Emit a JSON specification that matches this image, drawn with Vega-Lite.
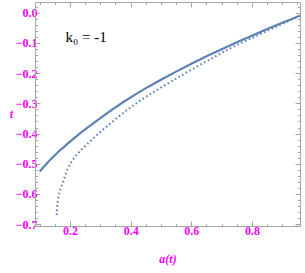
{
  "$schema": "https://vega.github.io/schema/vega-lite/v6.json",
  "width": 265,
  "height": 224,
  "autosize": {"type": "none"},
  "padding": {"left": 35, "top": 2, "right": 5, "bottom": 47},
  "background": "white",
  "view": {"stroke": null},
  "datasets": {
    "solid": [
      {"a": 0.1, "t": -0.526}, {"a": 0.11, "t": -0.514}, {"a": 0.12, "t": -0.503},
      {"a": 0.13, "t": -0.492}, {"a": 0.14, "t": -0.482}, {"a": 0.15, "t": -0.472},
      {"a": 0.16, "t": -0.462}, {"a": 0.18, "t": -0.444}, {"a": 0.2, "t": -0.427},
      {"a": 0.22, "t": -0.410}, {"a": 0.24, "t": -0.394}, {"a": 0.27, "t": -0.371},
      {"a": 0.3, "t": -0.349}, {"a": 0.34, "t": -0.320}, {"a": 0.38, "t": -0.293},
      {"a": 0.42, "t": -0.268}, {"a": 0.46, "t": -0.244}, {"a": 0.5, "t": -0.222},
      {"a": 0.55, "t": -0.195}, {"a": 0.6, "t": -0.169}, {"a": 0.65, "t": -0.144},
      {"a": 0.7, "t": -0.121}, {"a": 0.75, "t": -0.098}, {"a": 0.8, "t": -0.076},
      {"a": 0.85, "t": -0.054}, {"a": 0.9, "t": -0.033}, {"a": 0.958, "t": -0.010}
    ],
    "dotted": [
      {"a": 0.156, "t": -0.670}, {"a": 0.157, "t": -0.650}, {"a": 0.159, "t": -0.630},
      {"a": 0.162, "t": -0.610}, {"a": 0.166, "t": -0.592}, {"a": 0.17, "t": -0.579},
      {"a": 0.175, "t": -0.565}, {"a": 0.18, "t": -0.552}, {"a": 0.19, "t": -0.521},
      {"a": 0.2, "t": -0.502}, {"a": 0.21, "t": -0.486}, {"a": 0.22, "t": -0.472},
      {"a": 0.24, "t": -0.451}, {"a": 0.26, "t": -0.432}, {"a": 0.28, "t": -0.413},
      {"a": 0.3, "t": -0.395}, {"a": 0.33, "t": -0.369}, {"a": 0.36, "t": -0.344},
      {"a": 0.4, "t": -0.313}, {"a": 0.44, "t": -0.285}, {"a": 0.48, "t": -0.260},
      {"a": 0.52, "t": -0.236}, {"a": 0.56, "t": -0.212}, {"a": 0.6, "t": -0.189},
      {"a": 0.65, "t": -0.161}, {"a": 0.7, "t": -0.133}, {"a": 0.75, "t": -0.107},
      {"a": 0.8, "t": -0.084}, {"a": 0.85, "t": -0.060}, {"a": 0.9, "t": -0.037},
      {"a": 0.958, "t": -0.010}
    ],
    "label": [{"a": 0.253, "t": -0.079, "txt": "k₀ = -1"}]
  },
  "config": {
    "axis": {
      "domainColor": "#a6a6a6",
      "tickColor": "#a6a6a6",
      "grid": false,
      "labelColor": "#ff00ff",
      "labelFont": "Liberation Sans Narrow",
      "labelFontSize": 12,
      "labelFontWeight": "bold",
      "titleColor": "#ff00ff",
      "titleFont": "Liberation Sans Narrow",
      "titleFontStyle": "italic",
      "titleFontWeight": "bold",
      "titleFontSize": 12
    }
  },
  "resolve": {"axis": {"x": "independent", "y": "independent"}},
  "layer": [
    {
      "data": {"name": "solid"},
      "mark": {"type": "line", "color": "#5e81b5", "strokeWidth": 2.2},
      "encoding": {
        "x": {"field": "a", "type": "quantitative",
          "scale": {"domain": [0.0846, 0.9583], "nice": false, "zero": false},
          "axis": {"orient": "bottom", "values": [0.2, 0.4, 0.6, 0.8], "format": ".1f",
            "tickSize": -5, "labelPadding": 4, "title": "a(t)", "titleY": 32, "titleBaseline": "middle"}},
        "y": {"field": "t", "type": "quantitative",
          "scale": {"domain": [-0.706, 0.0354], "nice": false, "zero": false},
          "axis": {"orient": "left", "values": [0, -0.1, -0.2, -0.3, -0.4, -0.5, -0.6, -0.7], "format": ".1f",
            "tickSize": -5, "labelPadding": 3, "title": "t", "titleAngle": 0, "titleX": -24, "titleY": 111,
            "titleAlign": "center", "titleBaseline": "middle"}}
      }
    },
    {
      "data": {"name": "dotted"},
      "mark": {"type": "line", "color": "#5e81b5", "strokeWidth": 2, "strokeDash": [1.6, 2.6]},
      "encoding": {
        "x": {"field": "a", "type": "quantitative",
          "axis": {"orient": "bottom", "values": [0.1, 0.15, 0.25, 0.3, 0.35, 0.45, 0.5, 0.55, 0.65, 0.7, 0.75, 0.85, 0.9, 0.95],
            "tickSize": -2.5, "labels": false, "title": null, "domain": false}},
        "y": {"field": "t", "type": "quantitative",
          "axis": {"orient": "left", "values": [0.02, -0.02, -0.04, -0.06, -0.08, -0.12, -0.14, -0.16, -0.18, -0.22, -0.24, -0.26, -0.28, -0.32, -0.34, -0.36, -0.38, -0.42, -0.44, -0.46, -0.48, -0.52, -0.54, -0.56, -0.58, -0.62, -0.64, -0.66, -0.68],
            "tickSize": -2.5, "labels": false, "title": null, "domain": false}}
      }
    },
    {
      "data": {"name": "solid"},
      "mark": {"type": "line", "opacity": 0},
      "encoding": {
        "x": {"field": "a", "type": "quantitative",
          "axis": {"orient": "top", "values": [0.2, 0.4, 0.6, 0.8], "tickSize": -5, "labels": false, "title": null}},
        "y": {"field": "t", "type": "quantitative",
          "axis": {"orient": "right", "values": [0, -0.1, -0.2, -0.3, -0.4, -0.5, -0.6, -0.7], "tickSize": -5, "labels": false, "title": null}}
      }
    },
    {
      "data": {"name": "solid"},
      "mark": {"type": "line", "opacity": 0},
      "encoding": {
        "x": {"field": "a", "type": "quantitative",
          "axis": {"orient": "top", "values": [0.1, 0.15, 0.25, 0.3, 0.35, 0.45, 0.5, 0.55, 0.65, 0.7, 0.75, 0.85, 0.9, 0.95],
            "tickSize": -2.5, "labels": false, "title": null, "domain": false}},
        "y": {"field": "t", "type": "quantitative",
          "axis": {"orient": "right", "values": [0.02, -0.02, -0.04, -0.06, -0.08, -0.12, -0.14, -0.16, -0.18, -0.22, -0.24, -0.26, -0.28, -0.32, -0.34, -0.36, -0.38, -0.42, -0.44, -0.46, -0.48, -0.52, -0.54, -0.56, -0.58, -0.62, -0.64, -0.66, -0.68],
            "tickSize": -2.5, "labels": false, "title": null, "domain": false}}
      }
    },
    {
      "data": {"name": "label"},
      "mark": {"type": "text", "font": "Liberation Serif", "fontSize": 15, "color": "black", "align": "center", "baseline": "middle"},
      "encoding": {
        "x": {"field": "a", "type": "quantitative", "axis": null},
        "y": {"field": "t", "type": "quantitative", "axis": null},
        "text": {"field": "txt"}
      }
    }
  ]
}
